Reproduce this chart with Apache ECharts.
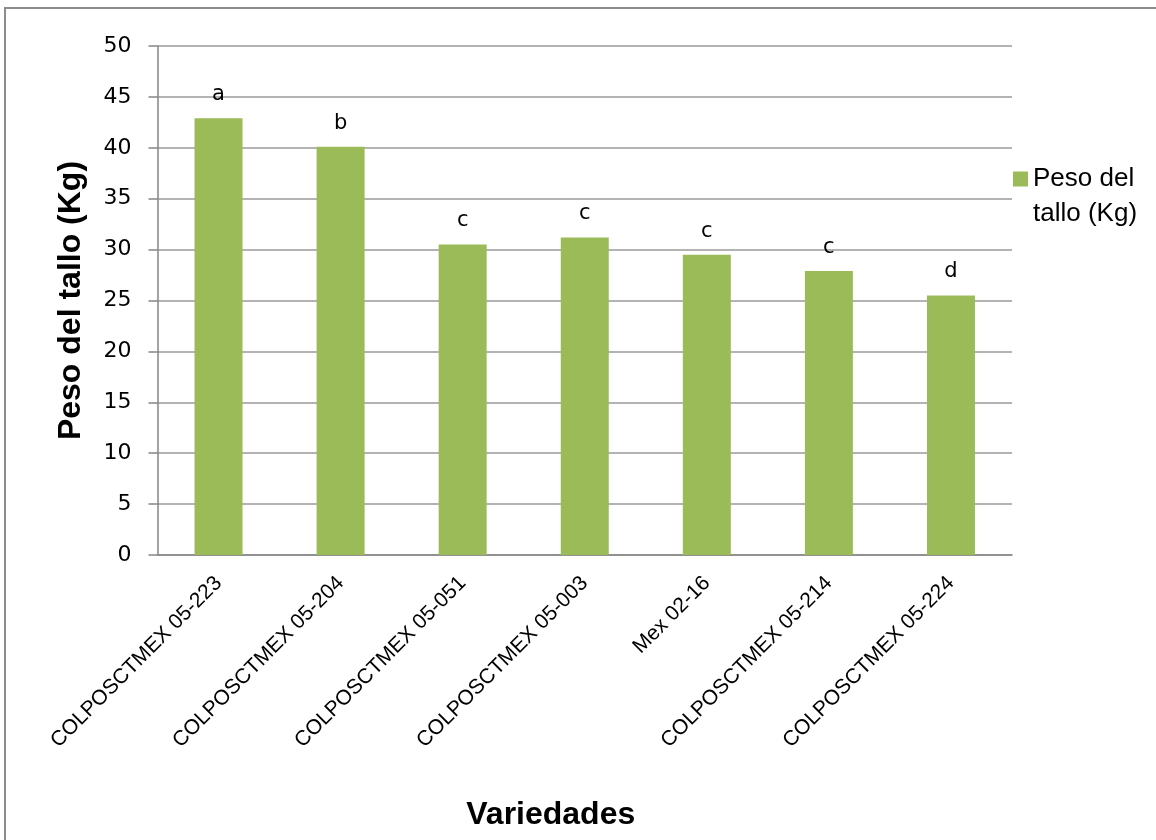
<!DOCTYPE html>
<html>
<head>
<meta charset="utf-8">
<script src="https://cdn.jsdelivr.net/npm/echarts@6/dist/echarts.min.js"></script>
<style>
  html, body { margin: 0; padding: 0; background: #fff; }
  #frame { position: absolute; left: 4px; top: 7px; width: 1200px; height: 900px; border: 2px solid #8c8c8c; box-sizing: border-box; }
  #chart { position: absolute; left: 0; top: 0; width: 1156px; height: 840px; }
</style>
</head>
<body>
<div id="frame"></div>
<div id="chart"></div>
<script>
// Stem weight per variety, with the significance-group letters shown above each bar
const varieties = [
  'COLPOSCTMEX 05-223',
  'COLPOSCTMEX 05-204',
  'COLPOSCTMEX 05-051',
  'COLPOSCTMEX 05-003',
  'Mex 02-16',
  'COLPOSCTMEX 05-214',
  'COLPOSCTMEX 05-224'
];
const stemWeight = [42.9, 40.1, 30.5, 31.2, 29.5, 27.9, 25.5];
const groupLetters = ['a', 'b', 'c', 'c', 'c', 'c', 'd'];
const seriesName = 'Peso del tallo (Kg)';

const chart = echarts.init(document.getElementById('chart'));
chart.setOption({
  backgroundColor: 'transparent',
  animation: false,
  grid: { left: 157.5, right: 144, top: 46, bottom: 285 },
  legend: {
    data: [seriesName],
    left: 1008,
    top: 126,
    itemWidth: 15,
    itemHeight: 15,
    itemGap: 0,
    icon: 'rect',
    // a blank leading line keeps the swatch level with the first text line
    formatter: () => '{l|\u00a0}\n{l|Peso del}\n{l|tallo (Kg)}',
    textStyle: {
      fontFamily: 'Liberation Sans',
      fontSize: 26,
      color: '#000',
      rich: {
        l: { fontFamily: 'Liberation Sans', fontSize: 26, lineHeight: 35, color: '#000' }
      }
    }
  },
  xAxis: {
    type: 'category',
    data: varieties,
    name: 'Variedades',
    nameLocation: 'middle',
    nameGap: 244,
    nameTextStyle: {
      fontFamily: 'Liberation Sans',
      fontWeight: 'bold',
      fontSize: 32,
      color: '#000',
      padding: [0, 68, 0, 0]
    },
    axisLine: { lineStyle: { color: '#868686', width: 1.5 } },
    axisTick: { show: false },
    axisLabel: {
      rotate: 45,
      interval: 0,
      margin: 25,
      fontFamily: 'Liberation Sans',
      fontSize: 21,
      color: '#000'
    }
  },
  yAxis: {
    type: 'value',
    min: 0,
    max: 50,
    interval: 5,
    name: 'Peso del tallo (Kg)',
    nameLocation: 'middle',
    nameGap: 70,
    nameTextStyle: {
      fontFamily: 'Liberation Sans',
      fontWeight: 'bold',
      fontSize: 32,
      color: '#000'
    },
    axisLine: { show: true, lineStyle: { color: '#868686', width: 1.5 } },
    axisTick: { show: true, length: 9, lineStyle: { color: '#868686', width: 1.5 } },
    axisLabel: {
      margin: 26,
      fontFamily: 'DejaVu Sans',
      fontSize: 22,
      color: '#000'
    },
    splitLine: { lineStyle: { color: '#9a9a9a', width: 1.5 } }
  },
  series: [{
    name: seriesName,
    type: 'bar',
    data: stemWeight,
    barWidth: 48,
    itemStyle: { color: '#9BBB59' },
    label: {
      show: true,
      position: 'top',
      distance: 13,
      formatter: p => groupLetters[p.dataIndex],
      fontFamily: 'DejaVu Sans',
      fontSize: 21,
      color: '#000'
    }
  }]
});
</script>
</body>
</html>
